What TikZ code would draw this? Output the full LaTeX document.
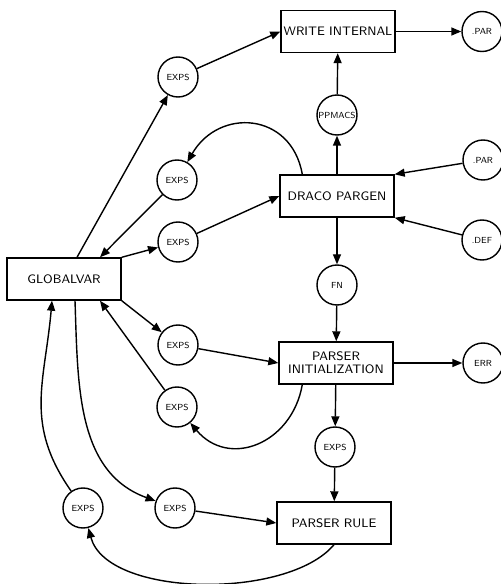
\documentclass[tikz,border=0pt]{standalone}
\usepackage{tikz}
\usetikzlibrary{arrows.meta}

\begin{document}
\begin{tikzpicture}[line width=0.8pt,
  proc/.style={draw,rectangle,minimum width=2.28cm,minimum height=0.84cm,inner sep=1pt,align=center,
    font=\sffamily\fontsize{7}{7.5}\selectfont},
  dat/.style={draw,circle,minimum size=0.8cm,inner sep=0pt,font=\sffamily\fontsize{5}{6}\selectfont},
  ar/.style={-{Triangle[length=2mm,width=1.6mm]}}]
\useasboundingbox (0,0) rectangle (10.02,11.68);

% ---------- the processes ----------
\node[proc] (wint)  at (6.76,11.05) {WRITE INTERNAL};
\node[proc] (draco) at (6.74,7.76) {DRACO PARGEN};
\node[proc] (gvar)  at (1.28,6.10) {GLOBALVAR};
\node[proc] (pinit) at (6.72,4.42) {PARSER\\INITIALIZATION};
\node[proc] (prule) at (6.68,1.22) {PARSER RULE};

% ---------- the data ----------
\node[dat] (x1)  at (3.56,10.14) {EXPS};
\node[dat] (x2)  at (3.54,8.08) {EXPS};
\node[dat] (x3)  at (3.56,6.84) {EXPS};
\node[dat] (x4)  at (3.56,4.78) {EXPS};
\node[dat] (x5)  at (3.54,3.54) {EXPS};
\node[dat] (x6)  at (6.70,2.74) {EXPS};
\node[dat] (x7)  at (1.66,1.52) {EXPS};
\node[dat] (x8)  at (3.50,1.52) {EXPS};
\node[dat] (parA) at (9.64,11.05) {.PAR};
\node[dat] (ppm)  at (6.74,9.38) {PPMACS};
\node[dat] (parB) at (9.66,8.48) {.PAR};
\node[dat] (def)  at (9.64,6.88) {.DEF};
\node[dat] (fn)   at (6.74,5.98) {FN};
\node[dat] (err)  at (9.66,4.42) {ERR};

% ---------- top: write internal ----------
\draw[ar] ([xshift=2.6mm]gvar.north) -- (x1);
\draw[ar] (x1) -- (wint.west);
\draw[ar] (wint) -- (parA);
\draw[ar] (draco) -- (ppm);
\draw[ar] (ppm) -- (wint);

% ---------- draco pargen ----------
\draw[ar] ([xshift=4.6mm]draco.north west) to[out=100,in=60,looseness=1.4] (x2);
\draw[ar] (x2) -- ([xshift=7.2mm]gvar.north);
\draw[ar] (gvar.north east) -- (x3);
\draw[ar] (x3) -- (draco.west);
\draw[ar] (parB) -- (draco.north east);
\draw[ar] (def) -- (draco.south east);
\draw[ar] (draco) -- (fn);

% ---------- parser initialization ----------
\draw[ar] (fn) -- (pinit);
\draw[ar] (gvar.south east) -- (x4);
\draw[ar] (x4) -- (pinit.west);
\draw[ar] (pinit) -- (err);
\draw[ar] ([xshift=4.8mm]pinit.south west) to[out=-100,in=-50,looseness=1.3] (x5);
\draw[ar] (x5) -- ([xshift=7.2mm]gvar.south);
\draw[ar] (pinit) -- (x6);

% ---------- parser rule ----------
\draw[ar] (x6) -- (prule);
\draw[ar] ([xshift=2.2mm]gvar.south) to[out=-88,in=160] (x8);
\draw[ar] (x8) -- (prule.west);
\draw[ar] (prule.south) to[out=-130,in=-75,looseness=0.75] (x7);
\draw[ar] (x7) to[out=125,in=-95,looseness=1.1] ([xshift=-2.4mm]gvar.south);
\end{tikzpicture}
\end{document}
